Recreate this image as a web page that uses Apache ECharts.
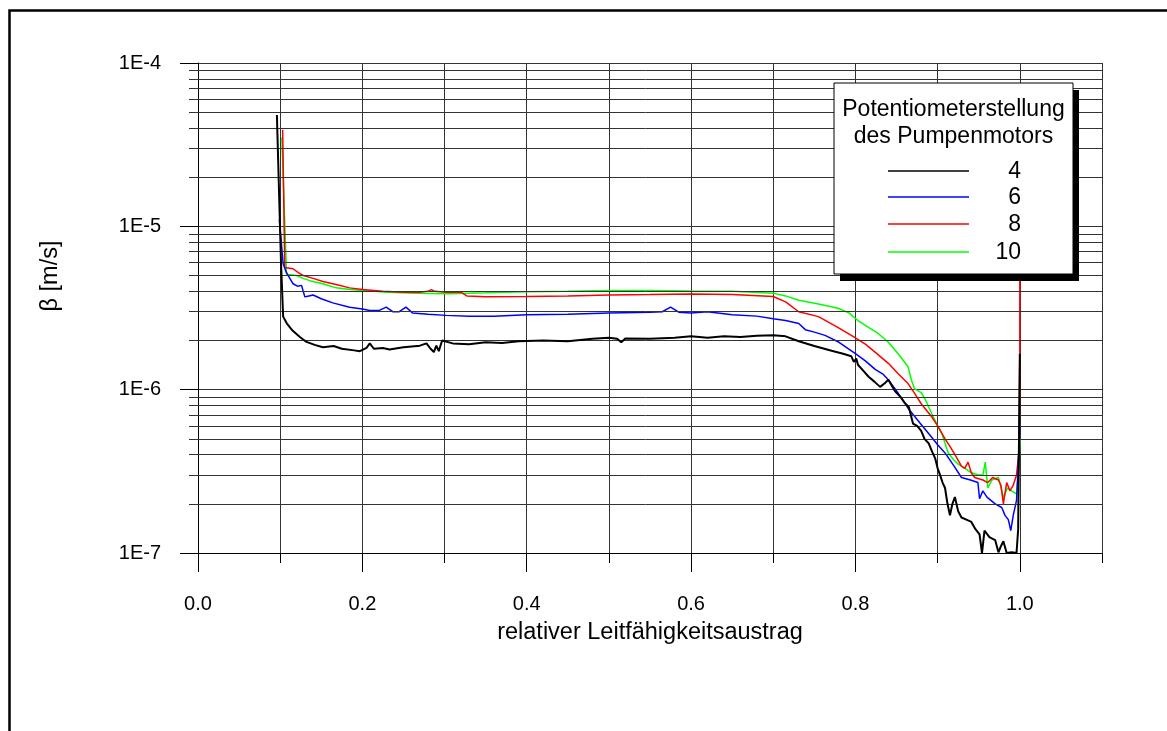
<!DOCTYPE html>
<html>
<head>
<meta charset="utf-8">
<script src="https://cdn.jsdelivr.net/npm/echarts@6/dist/echarts.min.js"></script>
<style>
  html, body { margin: 0; padding: 0; background: #fff; }
  #chart { width: 1167px; height: 731px; }
</style>
</head>
<body>
<div id="chart"></div>
<script>
  // Potentiometerstellung des Pumpenmotors: 4, 6, 8, 10
  var seriesNames = ['4', '6', '8', '10'];
  var seriesColors = ['#000000', '#0000ff', '#ff0000', '#00ff00'];

  // [relativer Leitfähigkeitsaustrag, beta in m/s]
  var pot4 = [
    [0.096, 4.8e-5], [0.101, 6e-6], [0.1036, 2.8e-6], [0.108, 2.55e-6], [0.115, 2.3e-6],
    [0.124, 2.1e-6], [0.132, 1.96e-6], [0.142, 1.88e-6], [0.152, 1.82e-6], [0.165, 1.85e-6],
    [0.175, 1.78e-6], [0.19, 1.74e-6], [0.197, 1.72e-6], [0.205, 1.8e-6], [0.209, 1.92e-6],
    [0.214, 1.78e-6], [0.225, 1.8e-6], [0.233, 1.76e-6], [0.25, 1.82e-6], [0.27, 1.86e-6],
    [0.278, 1.92e-6], [0.283, 1.78e-6], [0.287, 1.7e-6], [0.29, 1.86e-6], [0.293, 1.72e-6],
    [0.297, 2.0e-6], [0.31, 1.92e-6], [0.33, 1.9e-6], [0.35, 1.95e-6], [0.37, 1.93e-6],
    [0.39, 1.98e-6], [0.42, 2.0e-6], [0.45, 1.98e-6], [0.48, 2.05e-6], [0.5, 2.08e-6],
    [0.51, 2.05e-6], [0.515, 1.95e-6], [0.52, 2.06e-6], [0.55, 2.05e-6], [0.58, 2.08e-6],
    [0.6, 2.12e-6], [0.62, 2.08e-6], [0.64, 2.12e-6], [0.66, 2.1e-6], [0.68, 2.14e-6],
    [0.7, 2.15e-6], [0.715, 2.12e-6], [0.731, 1.98e-6], [0.75, 1.85e-6], [0.771, 1.73e-6],
    [0.785, 1.66e-6], [0.795, 1.6e-6], [0.798, 1.48e-6], [0.801, 1.55e-6], [0.803, 1.42e-6],
    [0.81, 1.3e-6], [0.816, 1.2e-6], [0.823, 1.12e-6], [0.83, 1.04e-6], [0.836, 1.1e-6],
    [0.84, 1.15e-6], [0.848, 0.98e-6], [0.855, 0.9e-6], [0.86, 0.83e-6], [0.865, 0.78e-6],
    [0.87, 0.62e-6], [0.875, 0.6e-6], [0.88, 0.56e-6], [0.884, 0.5e-6], [0.889, 0.47e-6],
    [0.893, 0.42e-6], [0.897, 0.38e-6], [0.9, 0.33e-6], [0.903, 0.3e-6], [0.906, 0.27e-6],
    [0.909, 0.25e-6], [0.912, 0.2e-6], [0.915, 0.17e-6], [0.918, 0.2e-6], [0.921, 0.22e-6],
    [0.925, 0.18e-6], [0.929, 0.165e-6], [0.935, 0.16e-6], [0.941, 0.155e-6], [0.946, 0.14e-6],
    [0.951, 0.13e-6], [0.954, 0.1e-6], [0.957, 0.137e-6], [0.963, 0.125e-6], [0.97, 0.12e-6],
    [0.974, 0.101e-6], [0.977, 0.11e-6], [0.98, 0.118e-6], [0.984, 0.1e-6], [0.99, 0.101e-6],
    [0.996, 0.1e-6], [0.998, 0.14e-6], [1.0, 1.66e-6]
  ];
  var pot6 = [
    [0.099, 1.1e-5], [0.1036, 5.9e-6], [0.1077, 5.2e-6], [0.1157, 4.45e-6], [0.121, 4.3e-6],
    [0.126, 4.35e-6], [0.13, 3.7e-6], [0.135, 3.75e-6], [0.14, 3.8e-6], [0.15, 3.6e-6],
    [0.164, 3.4e-6], [0.1845, 3.2e-6], [0.2, 3.12e-6], [0.209, 3.05e-6], [0.22, 3.05e-6],
    [0.229, 3.2e-6], [0.237, 3.0e-6], [0.245, 3.0e-6], [0.253, 3.2e-6], [0.261, 2.95e-6],
    [0.28, 2.9e-6], [0.302, 2.85e-6], [0.33, 2.82e-6], [0.36, 2.82e-6], [0.4, 2.88e-6],
    [0.45, 2.9e-6], [0.5, 2.95e-6], [0.55, 2.98e-6], [0.565, 3.0e-6], [0.575, 3.2e-6],
    [0.585, 2.98e-6], [0.6, 2.95e-6], [0.62, 3.0e-6], [0.65, 2.88e-6], [0.68, 2.82e-6],
    [0.7, 2.72e-6], [0.715, 2.65e-6], [0.731, 2.54e-6], [0.739, 2.33e-6], [0.75, 2.25e-6],
    [0.763, 2.15e-6], [0.78, 1.95e-6], [0.8, 1.66e-6], [0.812, 1.5e-6], [0.824, 1.33e-6],
    [0.833, 1.25e-6], [0.84, 1.15e-6], [0.852, 0.95e-6], [0.864, 0.77e-6], [0.878, 0.63e-6],
    [0.893, 0.51e-6], [0.9, 0.46e-6], [0.909, 0.41e-6], [0.92, 0.34e-6], [0.929, 0.29e-6],
    [0.94, 0.28e-6], [0.949, 0.27e-6], [0.951, 0.215e-6], [0.955, 0.24e-6], [0.96, 0.22e-6],
    [0.97, 0.2e-6], [0.978, 0.19e-6], [0.982, 0.17e-6], [0.986, 0.16e-6], [0.989, 0.137e-6],
    [0.992, 0.17e-6], [0.996, 0.21e-6], [0.998, 0.34e-6], [1.0, 0.6e-6]
  ];
  var pot8 = [
    [0.103, 3.9e-5], [0.1056, 5.6e-6], [0.1157, 5.5e-6], [0.122, 5.2e-6], [0.128, 5.0e-6],
    [0.14, 4.8e-6], [0.152, 4.6e-6], [0.168, 4.4e-6], [0.1845, 4.2e-6], [0.2, 4.1e-6],
    [0.225, 4.0e-6], [0.25, 3.95e-6], [0.27, 3.95e-6], [0.28, 4.0e-6], [0.284, 4.1e-6],
    [0.288, 4.0e-6], [0.302, 3.95e-6], [0.32, 3.95e-6], [0.327, 3.75e-6], [0.35, 3.7e-6],
    [0.4, 3.72e-6], [0.45, 3.75e-6], [0.5, 3.8e-6], [0.55, 3.82e-6], [0.6, 3.85e-6],
    [0.65, 3.82e-6], [0.7, 3.72e-6], [0.715, 3.45e-6], [0.731, 3.0e-6], [0.755, 2.8e-6],
    [0.779, 2.4e-6], [0.795, 2.15e-6], [0.812, 1.9e-6], [0.825, 1.68e-6], [0.84, 1.45e-6],
    [0.852, 1.25e-6], [0.864, 1.09e-6], [0.872, 0.95e-6], [0.88, 0.82e-6], [0.893, 0.68e-6],
    [0.9, 0.6e-6], [0.909, 0.5e-6], [0.915, 0.45e-6], [0.921, 0.4e-6], [0.929, 0.34e-6],
    [0.933, 0.33e-6], [0.937, 0.36e-6], [0.941, 0.31e-6], [0.945, 0.29e-6], [0.955, 0.28e-6],
    [0.961, 0.27e-6], [0.967, 0.29e-6], [0.974, 0.28e-6], [0.977, 0.26e-6], [0.98, 0.2e-6],
    [0.984, 0.27e-6], [0.988, 0.24e-6], [0.992, 0.26e-6], [0.996, 0.3e-6], [0.999, 0.42e-6],
    [1.0, 1.66e-6], [1.0, 1e-5]
  ];
  var pot10 = [
    [0.102, 3.5e-5], [0.1077, 5.08e-6], [0.113, 5.05e-6], [0.12, 5.0e-6], [0.128, 4.8e-6],
    [0.136, 4.65e-6], [0.152, 4.45e-6], [0.168, 4.2e-6], [0.185, 4.1e-6], [0.2, 4.05e-6],
    [0.23, 3.95e-6], [0.265, 3.9e-6], [0.306, 3.87e-6], [0.35, 3.92e-6], [0.4, 3.98e-6],
    [0.45, 4.0e-6], [0.5, 4.05e-6], [0.55, 4.05e-6], [0.6, 4.02e-6], [0.65, 4.0e-6],
    [0.7, 3.9e-6], [0.715, 3.75e-6], [0.731, 3.53e-6], [0.755, 3.35e-6], [0.779, 3.15e-6],
    [0.792, 2.95e-6], [0.803, 2.65e-6], [0.815, 2.42e-6], [0.828, 2.2e-6], [0.84, 1.95e-6],
    [0.852, 1.66e-6], [0.864, 1.38e-6], [0.868, 1.15e-6], [0.872, 1.01e-6], [0.88, 0.96e-6],
    [0.886, 0.85e-6], [0.893, 0.71e-6], [0.9, 0.6e-6], [0.905, 0.54e-6], [0.913, 0.41e-6],
    [0.92, 0.37e-6], [0.925, 0.35e-6], [0.933, 0.33e-6], [0.941, 0.31e-6], [0.95, 0.3e-6],
    [0.955, 0.3e-6], [0.958, 0.36e-6], [0.961, 0.25e-6], [0.966, 0.28e-6], [0.974, 0.29e-6],
    [0.98, 0.22e-6], [0.985, 0.25e-6], [0.99, 0.24e-6], [0.996, 0.23e-6], [0.999, 0.34e-6],
    [1.0, 0.5e-6]
  ];
  var seriesData = [pot4, pot6, pot8, pot10];

  // axis ranges / ticks
  var xMin = 0, xMax = 1.1;
  var yDecades = [1e-7, 1e-6, 1e-5];
  var yMinorFactors = [2, 3, 4, 5, 6, 7, 8, 9];

  var FONT = '"Liberation Sans", Arial, sans-serif';
  var GRID = { left: 198, right: 65, top: 63, bottom: 178 };
  var gridColor = '#333';

  var chart = echarts.init(document.getElementById('chart'), null, { renderer: 'canvas' });

  // horizontal lines at 2..9 of each decade (log axis has no proper minor ticks)
  var minorLines = [];
  yDecades.forEach(function (d) {
    yMinorFactors.forEach(function (f) {
      var v = f * d;
      minorLines.push([{ x: GRID.left - 9, yAxis: v }, { xAxis: xMax, yAxis: v }]);
    });
  });

  var zOrder = [5, 4, 3, 2];
  var series = seriesNames.map(function (name, i) {
    var s = {
      name: name,
      type: 'line',
      data: seriesData[i],
      showSymbol: false,
      symbol: 'none',
      z: zOrder[i],
      lineStyle: { color: seriesColors[i], width: i === 0 ? 2 : 1.5 },
      itemStyle: { color: seriesColors[i] },
      animation: false
    };
    if (i === 0) {
      s.markLine = {
        silent: true,
        symbol: 'none',
        animation: false,
        label: { show: false },
        lineStyle: { color: gridColor, width: 1, type: 'solid' },
        data: minorLines
      };
    }
    return s;
  });

  // legend box (drawn by hand to match the boxed legend with shadow)
  var LZ = 100;
  var legendBox = { x: 834, y: 83, w: 239, h: 191 };
  var legendRows = [171, 197, 224, 252];
  var legendFont = '23px ' + FONT;
  var legendEls = [
    { type: 'rect', z: LZ, shape: { x: legendBox.x + 6, y: legendBox.y + 7, width: legendBox.w, height: legendBox.h },
      style: { fill: '#000' } },
    { type: 'rect', z: LZ + 1, shape: { x: legendBox.x, y: legendBox.y, width: legendBox.w, height: legendBox.h },
      style: { fill: '#fff', stroke: '#000', lineWidth: 1 } },
    { type: 'text', z: LZ + 2, x: legendBox.x + legendBox.w / 2, y: 110,
      style: { text: 'Potentiometerstellung', font: legendFont, fill: '#000', textAlign: 'center', textVerticalAlign: 'middle' } },
    { type: 'text', z: LZ + 2, x: legendBox.x + legendBox.w / 2, y: 137,
      style: { text: 'des Pumpenmotors', font: legendFont, fill: '#000', textAlign: 'center', textVerticalAlign: 'middle' } }
  ];
  seriesNames.forEach(function (name, i) {
    legendEls.push({ type: 'line', z: LZ + 2, shape: { x1: 888, y1: legendRows[i], x2: 969, y2: legendRows[i] },
      style: { stroke: seriesColors[i], lineWidth: 1.5 } });
    legendEls.push({ type: 'text', z: LZ + 2, x: 1021, y: legendRows[i] + 1,
      style: { text: name, font: legendFont, fill: '#000', textAlign: 'right', textVerticalAlign: 'middle' } });
  });

  var option = {
    backgroundColor: '#fff',
    animation: false,
    grid: GRID,
    xAxis: [{
      type: 'value',
      min: xMin,
      max: xMax,
      interval: 0.2,
      position: 'bottom',
      name: 'relativer Leitfähigkeitsaustrag',
      nameLocation: 'middle',
      nameGap: 68,
      nameTextStyle: { fontFamily: FONT, fontSize: 23.5, color: '#000', verticalAlign: 'top' },
      axisLine: { show: true, lineStyle: { color: '#000', width: 1 } },
      axisTick: { show: true, length: 19, lineStyle: { color: '#000', width: 1 } },
      axisLabel: {
        show: true, margin: 41, fontFamily: FONT, fontSize: 20, color: '#000',
        showMaxLabel: false,
        formatter: function (v) { return v.toFixed(1); }
      },
      splitLine: { show: true, lineStyle: { color: gridColor, width: 1 } }
    }, {
      type: 'value',
      min: xMin,
      max: xMax,
      interval: 0.1,
      position: 'bottom',
      axisLine: { show: false },
      axisTick: { show: true, length: 10, lineStyle: { color: '#000', width: 1 } },
      axisLabel: { show: false },
      splitLine: { show: true, lineStyle: { color: gridColor, width: 1 } }
    }],
    yAxis: {
      type: 'log',
      logBase: 10,
      min: 1e-7,
      max: 1e-4,
      axisLine: { show: true, lineStyle: { color: '#000', width: 1 } },
      axisTick: { show: true, length: 18, lineStyle: { color: '#000', width: 1 } },
      axisLabel: {
        margin: 37, fontFamily: FONT, fontSize: 20, color: '#000',
        formatter: function (v) { return '1E' + Math.round(Math.log10(v)); }
      },
      splitLine: { show: true, lineStyle: { color: gridColor, width: 1 } }
    },
    series: series,
    graphic: {
      elements: [
        { type: 'rect', z: 0, shape: { x: 9.5, y: 10.5, width: 1300, height: 900 },
          style: { fill: null, stroke: '#000', lineWidth: 2.5 } },
        { type: 'text', z: LZ, x: 51, y: 276, rotation: Math.PI / 2,
          style: { text: 'β [m/s]', font: '23.5px ' + FONT, fill: '#000', textAlign: 'center', textVerticalAlign: 'middle' } }
      ].concat(legendEls)
    }
  };

  chart.setOption(option);
</script>
</body>
</html>
